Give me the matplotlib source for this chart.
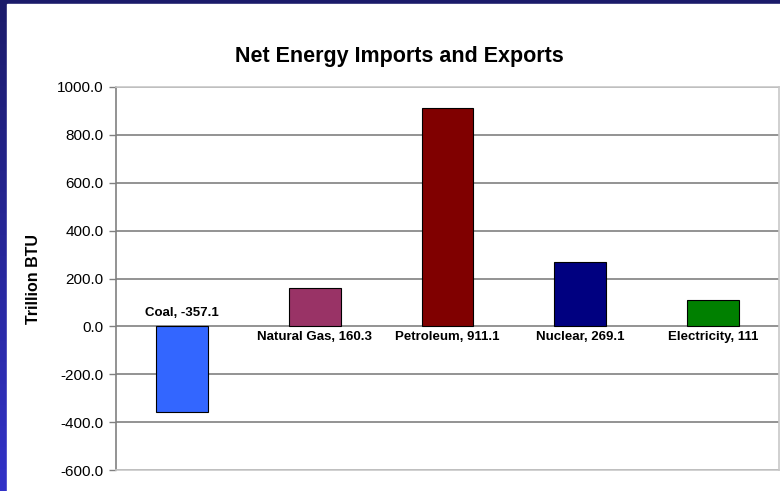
import numpy as np
import matplotlib.pyplot as plt
from matplotlib.patches import Rectangle
from matplotlib.colors import LinearSegmentedColormap

categories = ['Coal', 'Natural Gas', 'Petroleum', 'Nuclear', 'Electricity']
values = [-357.1, 160.3, 911.1, 269.1, 111]
value_text = ['-357.1', '160.3', '911.1', '269.1', '111']
colors = ['#3366FF', '#993366', '#800000', '#000080', '#008000']
yticks = [-600, -400, -200, 0, 200, 400, 600, 800, 1000]

plt.rcParams['font.family'] = ['Liberation Sans', 'DejaVu Sans']

fig = plt.figure(figsize=(7.8, 4.91), dpi=100)

# dark blue slide background with a vertical gradient
bg = fig.add_axes([0, 0, 1, 1], zorder=-10)
grad = np.linspace(0, 1, 256).reshape(-1, 1)
cm = LinearSegmentedColormap.from_list('slide', ['#1b1b6a', '#3232c8'])
bg.imshow(grad, aspect='auto', cmap=cm, extent=[0, 1, 0, 1], origin='upper')
bg.add_patch(Rectangle((7 / 780, 0), 1, (491 - 4) / 491, color='white'))
bg.set_xlim(0, 1)
bg.set_ylim(0, 1)
bg.axis('off')

ax = fig.add_axes([116 / 780, 21 / 491, 663 / 780, 383 / 491])
x = np.arange(len(categories))
ax.bar(x, values, width=0.39, color=colors, edgecolor='black', linewidth=0.8, zorder=3)

ax.set_xlim(-0.5, len(categories) - 0.5)
ax.set_ylim(-600, 1000)
ax.set_yticks(yticks)
ax.set_yticklabels([f'{t:.1f}' for t in yticks], fontsize=11)
ax.set_xticks([])
ax.yaxis.grid(True, color='#808080', linewidth=1.2, zorder=0)
ax.tick_params(axis='y', direction='out', length=5, width=1, color='#808080', pad=4)

for side in ['top', 'right', 'bottom']:
    ax.spines[side].set_color('#c8c8c8')
    ax.spines[side].set_linewidth(1.2)
ax.spines['left'].set_color('#808080')
ax.spines['left'].set_linewidth(1.2)

for xi, cat, v, vt in zip(x, categories, values, value_text):
    if v < 0:
        ax.text(xi, 30, f'{cat}, {vt}', ha='center', va='bottom',
                fontsize=9.5, fontweight='bold')
    else:
        ax.text(xi, -20, f'{cat}, {vt}', ha='center', va='top',
                fontsize=9.5, fontweight='bold')

ax.set_ylabel('Trillion BTU', fontsize=11.5, fontweight='bold')
ax.yaxis.set_label_coords(-0.113, 0.5)
fig.text(0.512, 0.884, 'Net Energy Imports and Exports', ha='center', va='center',
         fontsize=15.5, fontweight='bold')

fig.savefig('out.png', dpi=100)
